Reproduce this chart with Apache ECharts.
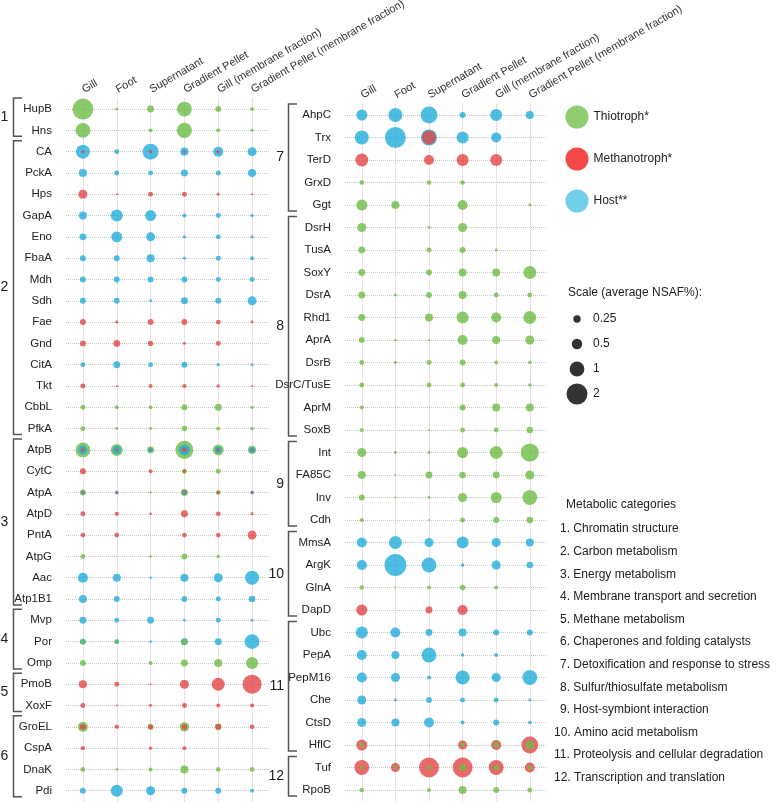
<!DOCTYPE html>
<html><head><meta charset="utf-8">
<script src="https://cdn.jsdelivr.net/npm/echarts@6/dist/echarts.min.js"></script>
<style>html,body{margin:0;padding:0;background:#fff}#c{width:777px;height:803px}</style>
</head><body><div id="c"></div>
<script>
// ---------------- DATA ----------------
const colNames = ['Gill','Foot','Supernatant','Gradient Pellet','Gill (membrane fraction)','Gradient Pellet (membrane fraction)'];

const leftRows = ['HupB','Hns','CA','PckA','Hps','GapA','Eno','FbaA','Mdh','Sdh','Fae','Gnd','CitA','Tkt','CbbL','PfkA',
  'AtpB','CytC','AtpA','AtpD','PntA','AtpG','Aac','Atp1B1','Mvp','Por','Omp','PmoB','XoxF','GroEL','CspA','DnaK','Pdi'];
const rightRows = ['AhpC','Trx','TerD','GrxD','Ggt','DsrH','TusA','SoxY','DsrA','Rhd1','AprA','DsrB','DsrC/TusE','AprM','SoxB',
  'Int','FA85C','Inv','Cdh','MmsA','ArgK','GlnA','DapD','Ubc','PepA','PepM16','Che','CtsD','HflC','Tuf','RpoB'];

// average NSAF% per column (Gill, Foot, Supernatant, Gradient Pellet, Gill mem, Gradient Pellet mem); 0 = not detected
const leftThiotroph = [
 [2.0,0.04,0.22,1.0,0.16,0.07],[1.0,0,0.07,1.05,0.07,0.05],[0,0,0,0,0,0],[0,0,0,0,0,0],[0,0,0,0,0,0],
 [0,0,0,0,0,0],[0,0,0,0,0,0],[0,0,0,0,0,0],[0,0,0,0,0,0],[0,0,0,0,0,0],[0,0,0,0,0,0],[0,0,0,0,0,0],
 [0,0,0,0,0,0],[0,0,0,0,0,0],[0.11,0.07,0.07,0.16,0.22,0.05],[0.11,0.04,0.04,0.14,0.07,0.06],
 [1.0,0.66,0.22,1.5,0.55,0.3],[0,0,0,0.11,0.11,0],[0.16,0,0.02,0.22,0.1,0],[0,0,0,0,0,0],[0,0,0,0,0,0],
 [0.1,0,0.03,0.16,0.05,0],[0,0,0,0,0,0],[0,0,0,0,0,0],[0,0,0,0,0,0],[0.12,0.09,0,0.18,0,0],
 [0.16,0,0.07,0.22,0.3,0.66],[0,0,0,0,0,0],[0,0,0,0,0,0],[0.46,0,0.15,0.4,0.2,0],[0,0,0,0,0,0],
 [0.1,0.03,0.07,0.3,0.1,0.1],[0,0,0,0,0,0]
];
const leftMethanotroph = [
 [0,0,0,0,0,0],[0,0,0,0,0,0],[0.05,0,0.05,0.04,0.05,0],[0,0,0,0,0,0],[0.37,0.02,0.11,0.11,0.04,0.02],
 [0,0,0,0,0,0],[0,0,0,0,0,0],[0,0,0,0,0,0],[0,0,0,0,0,0],[0,0,0,0,0,0],[0.16,0.04,0.16,0.16,0.11,0.04],
 [0.16,0.22,0.13,0.04,0.11,0],[0,0,0,0,0,0],[0.11,0.02,0.07,0.08,0.05,0.02],[0,0,0,0,0,0],[0,0,0,0,0,0],
 [0.07,0.04,0.02,0.11,0.05,0.03],[0.16,0,0.07,0.05,0,0],[0.07,0.03,0.01,0.11,0.05,0.03],
 [0.11,0.08,0.03,0.22,0.1,0.04],[0.1,0.1,0,0.1,0.1,0.37],[0,0,0,0,0,0],[0,0,0,0,0,0],[0,0,0,0,0,0],
 [0,0,0,0,0,0],[0,0,0,0,0,0],[0,0,0,0,0,0],[0.3,0.11,0.02,0.37,0.77,1.65],[0.11,0.02,0.04,0.11,0.07,0.07],
 [0.16,0.08,0.12,0.16,0.15,0.1],[0.08,0,0.05,0.07,0,0],[0,0,0,0,0,0],[0,0,0,0,0,0]
];
const leftHost = [
 [0,0,0,0,0,0],[0,0,0,0,0,0],[0.9,0.11,1.17,0.3,0.46,0.37],[0.3,0.11,0.11,0.22,0.11,0.3],[0,0,0,0,0,0],
 [0.29,0.66,0.55,0.07,0.11,0.05],[0.22,0.55,0.37,0.05,0.11,0.05],[0.16,0.16,0.29,0.04,0.11,0.07],
 [0.16,0.16,0.16,0.16,0.11,0.11],[0.16,0.16,0.04,0.22,0.16,0.37],[0,0,0,0,0,0],[0,0,0,0,0,0],
 [0.11,0.22,0.11,0.16,0.05,0.04],[0,0,0,0,0,0],[0,0,0,0,0,0],[0,0,0,0,0,0],
 [0.37,0.3,0.11,0.55,0.22,0.16],[0,0,0,0,0,0],[0.05,0.07,0,0.07,0,0.07],[0,0,0,0,0,0],[0,0,0,0,0,0],
 [0,0,0,0,0,0],[0.46,0.29,0.03,0.29,0.37,0.9],[0.29,0.16,0,0.16,0.11,0.2],[0.22,0.11,0.22,0.03,0.11,0.04],
 [0.16,0.11,0.03,0.22,0.22,1.0],[0,0,0,0,0,0],[0,0,0,0,0,0],[0,0,0,0,0,0],[0,0,0,0,0,0],[0,0,0,0,0,0],
 [0,0,0,0,0,0],[0.16,0.66,0.37,0.16,0.16,0.07]
];
const rightThiotroph = [
 [0,0,0,0,0,0],[0,0,0,0,0,0],[0,0,0,0,0,0],[0.1,0,0.1,0.1,0,0],[0.55,0.29,0,0.46,0,0.04],
 [0.37,0,0.04,0.37,0,0],[0.22,0,0.11,0.16,0.04,0],[0.22,0,0.16,0.29,0.29,0.77],[0.22,0.04,0.16,0.3,0.11,0.11],
 [0.22,0,0.29,0.66,0.46,0.77],[0.16,0.03,0.02,0.46,0.29,0.37],[0.11,0.04,0.11,0.16,0.07,0.05],
 [0.11,0,0.11,0.11,0.07,0.06],[0.07,0,0,0.16,0.29,0.29],[0.07,0,0.02,0.11,0.11,0.2],
 [0.37,0.04,0.04,0.55,0.77,1.5],[0.29,0.02,0.22,0.2,0.22,0.37],[0.16,0.02,0.04,0.37,0.55,1.0],
 [0.07,0,0.02,0.11,0.16,0.2],[0,0,0,0,0,0],[0,0,0,0,0,0],[0.1,0.02,0.07,0.14,0.07,0],[0,0,0,0,0,0],
 [0,0,0,0,0,0],[0,0,0,0,0,0],[0,0,0,0,0,0],[0,0,0,0,0,0],[0,0,0,0,0,0],
 [0.11,0,0,0.11,0.16,0.37],[0.07,0.07,0.1,0.22,0.16,0.1],[0.1,0,0.07,0.3,0.16,0.11]
];
const rightMethanotroph = [
 [0,0,0,0,0,0],[0,0,0.9,0,0,0],[0.77,0,0.46,0.66,0.66,0],[0,0,0,0,0,0],[0,0,0,0,0,0],
 [0,0,0,0,0,0],[0,0,0,0,0,0],[0,0,0,0,0,0],[0,0,0,0,0,0],[0,0,0,0,0,0],[0,0,0,0,0,0],[0,0,0,0,0,0],
 [0,0,0,0,0,0],[0,0,0,0,0,0],[0,0,0,0,0,0],[0,0,0,0,0,0],[0,0,0,0,0,0],[0,0,0,0,0,0],[0,0,0,0,0,0],
 [0,0,0,0,0,0],[0,0,0,0,0,0],[0,0,0,0,0,0],[0.55,0,0.22,0.46,0,0],[0,0,0,0,0,0],[0,0,0,0,0,0],
 [0,0,0,0,0,0],[0,0,0,0,0,0],[0,0,0,0,0,0],[0.55,0,0,0.37,0.46,1.3],[1.0,0.37,1.8,1.8,1.0,0.46],[0,0,0,0,0,0]
];
const rightHost = [
 [0.55,0.9,1.3,0.16,0.66,0.3],[0.9,2.0,1.17,0.66,0.46,0],[0,0,0,0,0,0],[0,0,0,0,0,0],[0,0,0,0,0,0],
 [0,0,0,0,0,0],[0,0,0,0,0,0],[0,0,0,0,0,0],[0,0,0,0,0,0],[0,0,0,0,0,0],[0,0,0,0,0,0],[0,0,0,0,0,0],
 [0,0,0,0,0,0],[0,0,0,0,0,0],[0,0,0,0,0,0],[0,0,0,0,0,0],[0,0,0,0,0,0],[0,0,0,0,0,0],[0,0,0,0,0,0],
 [0.46,0.77,0.37,0.66,0.37,0.29],[0.46,2.2,1.0,0.06,0.37,0.2],[0,0,0,0,0,0],[0,0,0,0,0,0],
 [0.66,0.46,0.22,0.3,0.16,0.16],[0.46,0.29,1.0,0.05,0.07,0],[0.46,0.37,0.07,0.9,0.37,1.0],
 [0.37,0.04,0.16,0.11,0.11,0.04],[0.37,0.29,0.46,0.07,0.16,0.06],[0,0,0,0,0,0],[0,0,0,0,0,0],[0,0,0,0,0,0]
];

const organisms = ['Thiotroph*','Methanotroph*','Host**'];
const scaleValues = [0.25, 0.5, 1, 2];
const leftGroups = [[1,'HupB','Hns'],[2,'CA','PfkA'],[3,'AtpB','Atp1B1'],[4,'Mvp','Omp'],[5,'PmoB','XoxF'],[6,'GroEL','Pdi']];
const rightGroups = [[7,'AhpC','Ggt'],[8,'DsrH','SoxB'],[9,'Int','Cdh'],[10,'MmsA','DapD'],[11,'Ubc','HflC'],[12,'Tuf','RpoB']];
const categoryNames = ['Chromatin structure','Carbon metabolism','Energy metabolism','Membrane transport and secretion',
  'Methane metabolism','Chaperones and folding catalysts','Detoxification and response to stress',
  'Sulfur/thiosulfate metabolism','Host-symbiont interaction','Amino acid metabolism',
  'Proteolysis and cellular degradation','Transcription and translation'];

// ---------------- STYLE ----------------
const FONT = "'Liberation Sans', Arial, sans-serif";
const bubbleColors = ['#6dbd45','#e24545','#20acdb'];
const legendColors = ['#74c04c','#f01c1c','#4ec3e3'];
const sizeOf = v => 14.8 * Math.sqrt(v);

function buildItems(rows, mats) {
  const out = [];
  mats.forEach((m, o) => m.forEach((row, r) => row.forEach((v, c) => {
    if (v > 0) out.push({ value: [colNames[c], rows[r], v], itemStyle: { color: bubbleColors[o] } });
  })));
  out.sort((a, b) => b.value[2] - a.value[2]);
  return out;
}

const chart = echarts.init(document.getElementById('c'), null, { renderer: 'canvas' });

function xAx(gi) {
  return { type: 'category', gridIndex: gi, data: colNames, position: 'top',
    axisLine: { show: false }, axisTick: { show: false },
    axisLabel: { interval: 0, rotate: -30, align: 'left', verticalAlign: 'middle', margin: 8,
      fontSize: 11, color: '#333', fontFamily: FONT },
    splitLine: { show: true, interval: 0, alignWithLabel: true, lineStyle: { type: 'dotted', color: '#e5bcbc', width: 1 } } };
}
function yAx(gi, rows) {
  return { type: 'category', gridIndex: gi, data: rows, inverse: true,
    axisLine: { show: false }, axisTick: { show: false },
    axisLabel: { interval: 0, margin: 14, fontSize: 11.5, color: '#222', fontFamily: FONT },
    splitLine: { show: true, interval: 0, alignWithLabel: true, lineStyle: { type: 'dotted', color: '#c4c4c4', width: 1 } } };
}

const option = {
  animation: false,
  backgroundColor: '#ffffff',
  textStyle: { fontFamily: FONT },
  grid: [
    { left: 66, top: 98.4, width: 203, height: 703, containLabel: false, outerBoundsMode: 'none' },
    { left: 345, top: 103.75, width: 201.6, height: 697.5, containLabel: false, outerBoundsMode: 'none' },
    { left: 568, top: 306.5, width: 18, height: 100, containLabel: false, outerBoundsMode: 'none' }
  ],
  xAxis: [ xAx(0), xAx(1),
    { type: 'value', gridIndex: 2, min: -1, max: 1, show: false } ],
  yAxis: [ yAx(0, leftRows), yAx(1, rightRows),
    { type: 'category', gridIndex: 2, data: scaleValues.map(String), inverse: true, position: 'right',
      axisLine: { show: false }, axisTick: { show: false }, splitLine: { show: false },
      axisLabel: { margin: 7, fontSize: 12, color: '#222', fontFamily: FONT, align: 'left' } } ],
  legend: {
    orient: 'vertical', left: 565.5, top: 105.5, itemWidth: 23, itemHeight: 23, itemGap: 19,
    icon: 'circle', selectedMode: false, padding: 0,
    textStyle: { fontSize: 12, color: '#222', fontFamily: FONT },
    data: organisms
  },
  series: [
    { type: 'scatter', xAxisIndex: 0, yAxisIndex: 0, silent: true, z: 3,
      symbolSize: v => sizeOf(v[2]), data: buildItems(leftRows, [leftThiotroph, leftMethanotroph, leftHost]) },
    { type: 'scatter', xAxisIndex: 1, yAxisIndex: 1, silent: true, z: 3,
      symbolSize: v => sizeOf(v[2]), data: buildItems(rightRows, [rightThiotroph, rightMethanotroph, rightHost]) },
    ...organisms.map((n, i) => ({ name: n, type: 'scatter', xAxisIndex: 0, yAxisIndex: 0, data: [],
      itemStyle: { color: legendColors[i] } })),
    { type: 'scatter', xAxisIndex: 2, yAxisIndex: 2, silent: true,
      itemStyle: { color: '#000' }, symbolSize: v => sizeOf(v[2]),
      data: scaleValues.map(v => [0, String(v), v]) }
  ]
};
chart.setOption(option);

// ---------------- annotations ----------------
const g = [];
function brackets(groups, axisIdx, xv, xs, numX, numAlign) {
  groups.forEach(([num, a, b]) => {
    const y1 = chart.convertToPixel({ yAxisIndex: axisIdx }, a) - 11;
    const y2 = chart.convertToPixel({ yAxisIndex: axisIdx }, b) + 6;
    g.push({ type: 'polyline', silent: true,
      shape: { points: [[xs, y1], [xv, y1], [xv, y2], [xs, y2]] },
      style: { stroke: '#555', lineWidth: 1.5, fill: null } });
    g.push({ type: 'text', silent: true, x: numX, y: (y1 + y2) / 2,
      style: { text: String(num), font: '14px ' + FONT, fill: '#222',
        align: numAlign, textAlign: numAlign, verticalAlign: 'middle', textVerticalAlign: 'middle' } });
  });
}
brackets(leftGroups, 0, 13.5, 22, 4.5, 'center');
brackets(rightGroups, 1, 288.5, 297, 284, 'right');

g.push({ type: 'text', silent: true, x: 568, y: 293,
  style: { text: 'Scale (average NSAF%):', font: '12px ' + FONT, fill: '#222',
    align: 'left', textAlign: 'left', verticalAlign: 'middle', textVerticalAlign: 'middle' } });
g.push({ type: 'text', silent: true, x: 566, y: 505,
  style: { text: 'Metabolic categories', font: '12px ' + FONT, fill: '#222',
    align: 'left', textAlign: 'left', verticalAlign: 'middle', textVerticalAlign: 'middle' } });
categoryNames.forEach((n, i) => {
  g.push({ type: 'text', silent: true, x: i < 9 ? 560 : 554, y: 529 + i * 22.6,
    style: { text: (i + 1) + '. ' + n, font: '12px ' + FONT, fill: '#222',
      align: 'left', textAlign: 'left', verticalAlign: 'middle', textVerticalAlign: 'middle' } });
});
chart.setOption({ graphic: { elements: g } });
</script>
</body></html>
